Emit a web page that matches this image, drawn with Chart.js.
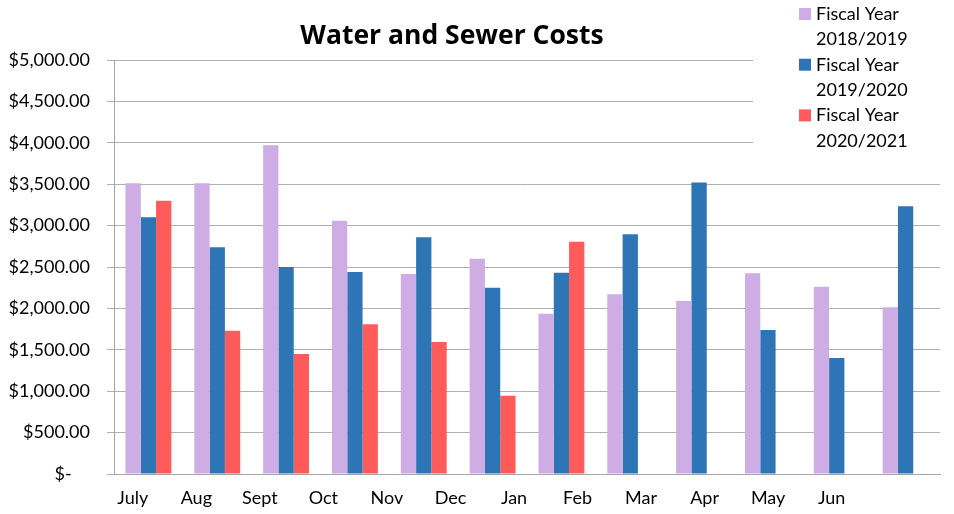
<!DOCTYPE html>
<html>
<head>
<meta charset="utf-8">
<script src="https://cdn.jsdelivr.net/npm/chart.js@4.4.1/dist/chart.umd.min.js"></script>
<style>
  html, body { margin: 0; padding: 0; background: #fff; }
  #wrap { width: 954px; height: 514px; }
</style>
</head>
<body>
<div id="wrap"><canvas id="myChart"></canvas></div>
<script>

const months = ['July', 'Aug', 'Sept', 'Oct', 'Nov', 'Dec', 'Jan', 'Feb', 'Mar', 'Apr', 'May', 'Jun'];
const fy1819 = [3510, 3510, 3970, 3060, 2415, 2600, 1935, 2170, 2090, 2425, 2260, 2015];
const fy1920 = [3100, 2740, 2500, 2440, 2860, 2250, 2430, 2895, 3520, 1740, 1400, 3235];
const fy2021 = [3300, 1730, 1450, 1810, 1595, 945, 2805, null, null, null, null, null];
const seriesNames = [['Fiscal Year', '2018/2019'], ['Fiscal Year', '2019/2020'], ['Fiscal Year', '2020/2021']];
const yMax = 5000;
const yStep = 500;

const FONT = 'Lato';
const colors = ['#ceade4', '#2e75b6', '#ff5b5b'];

// axis labels in the picture sit on a slightly tighter spacing than the bars
const labelSlots = months.concat(['']);

function money(v) {
	if (v === 0) return '$-    ';
	return '$' + v.toLocaleString('en-US', {minimumFractionDigits: 2, maximumFractionDigits: 2});
}

const titleLegend = {
	id: 'titleLegend',
	beforeDatasetsDraw(chart) {
		const c = chart.ctx;
		c.save();
		c.fillStyle = '#fff';
		c.fillRect(753, 0, chart.width - 753, 165);
		c.restore();
	},
	afterDraw(chart) {
		const c = chart.ctx;
		c.save();
		c.fillStyle = '#000';
		c.font = 'bold 26.5px "Open Sans"';
		c.textAlign = 'center';
		c.textBaseline = 'alphabetic';
		c.fillText('Water and Sewer Costs', 452, 44);

		c.font = '18px ' + FONT;
		c.textAlign = 'left';
		chart.data.datasets.forEach((ds, i) => {
			const y0 = 20 + i * 50.7;
			c.fillStyle = ds.backgroundColor;
			c.fillRect(799, y0 - 12, 12, 12);
			c.fillStyle = '#000';
			ds.label.forEach((line, k) => {
				c.fillText(line, 816, y0 + k * 25.4);
			});
		});
		c.restore();
	}
};

const ctx = document.getElementById('myChart').getContext('2d');

const chart = new Chart(ctx, {
	type: 'bar',
	data: {
		labels: months,
		datasets: [
			{label: seriesNames[0], data: fy1819, backgroundColor: colors[0]},
			{label: seriesNames[1], data: fy1920, backgroundColor: colors[1]},
			{label: seriesNames[2], data: fy2021, backgroundColor: colors[2]}
		]
	},
	options: {
		responsive: true,
		maintainAspectRatio: false,
		animation: false,
		datasets: {
			bar: {
				categoryPercentage: 0.667,
				barPercentage: 1.0
			}
		},
		layout: {
			padding: {top: 60, right: 14, bottom: 7, left: 0}
		},
		plugins: {
			legend: {display: false},
			title: {display: false},
			tooltip: {enabled: false}
		},
		scales: {
			x: {
				position: 'bottom',
				afterFit: (s) => { s.height = 0; },
				grid: {display: false, drawTicks: false},
				border: {display: true, color: '#a6a6a6', width: 1},
				ticks: {display: false}
			},
			xl: {
				type: 'category',
				position: 'bottom',
				labels: labelSlots,
				offset: true,
				afterFit: (s) => { s.height = 33; },
				grid: {display: false, drawTicks: false},
				border: {display: false},
				ticks: {
					padding: 13,
					labelOffset: -13,
					maxRotation: 0,
					autoSkip: false,
					color: '#000',
					font: {family: FONT, size: 18}
				}
			},
			y: {
				min: 0,
				max: yMax,
				afterFit: (s) => { s.width = 114; },
				grid: {color: '#b0b0b0', tickLength: 7, lineWidth: 1},
				border: {display: true, color: '#a6a6a6', width: 1},
				ticks: {
					stepSize: yStep,
					padding: 17,
					color: '#000',
					font: {family: FONT, size: 18},
					callback: (v) => money(v)
				}
			}
		}
	},
	plugins: [titleLegend]
});
</script>
</body>
</html>
